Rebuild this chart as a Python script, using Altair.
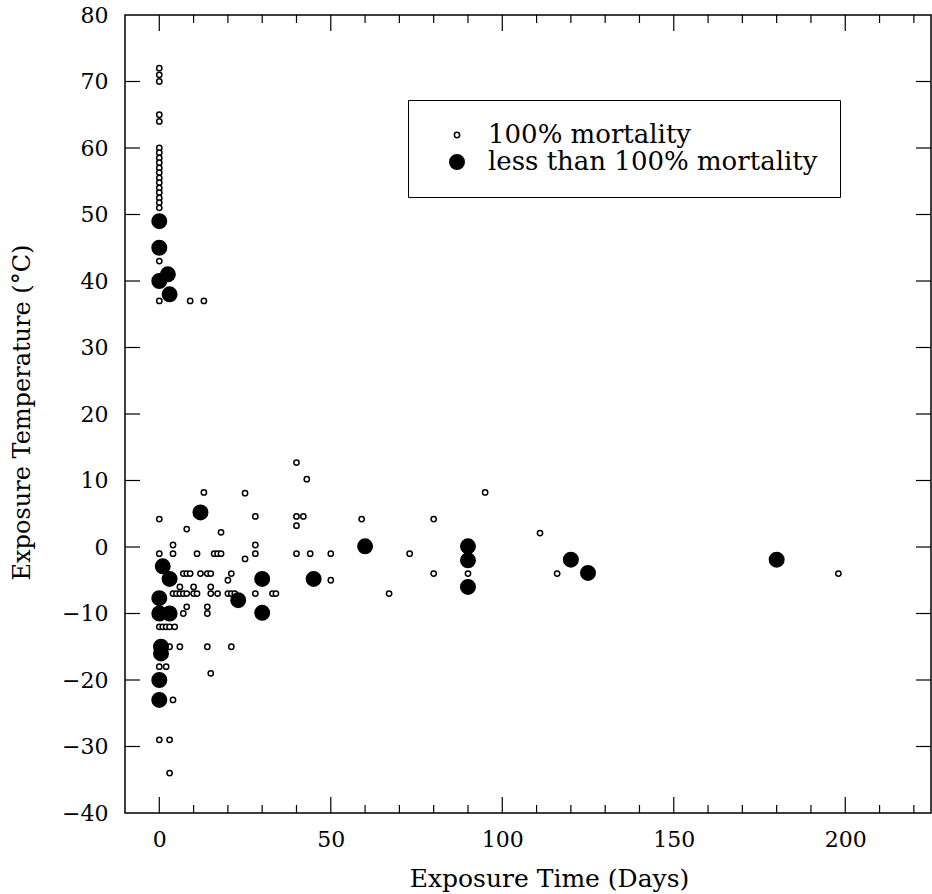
import altair as alt
import pandas as pd

# ---- data ----
open_days = [0, 0, 0, 0, 0,
             0, 0, 0, 0, 0, 0, 0, 0, 0, 0, 0, 0, 0,
             0, 0, 9, 13,
             40, 43, 13, 25, 95,
             0, 28, 40, 42, 40, 59, 80,
             8, 18, 111,
             4, 28,
             0, 4, 11, 16, 17, 18, 28, 40, 44, 50, 73,
             25,
             7, 8, 9, 12, 14, 15, 21, 80, 90, 116, 198,
             20, 50,
             6, 10, 15,
             4, 5, 6, 7, 8, 10, 11, 15, 17, 20, 21, 22, 28, 33, 34, 67,
             8, 14, 7, 14,
             0, 1, 2, 3, 4.5,
             3, 6, 14, 21,
             0, 2, 15, 4, 0, 3, 3]
open_temps = [72, 71, 70, 65, 64,
              60, 59.3, 58.5, 57.8, 57, 56.3, 55.5, 54.8, 54, 53.3, 52.5, 51.8, 51,
              43, 37, 37, 37,
              12.7, 10.2, 8.2, 8.1, 8.2,
              4.2, 4.6, 4.6, 4.6, 3.2, 4.2, 4.2,
              2.7, 2.2, 2.1,
              0.3, 0.3,
              -1, -1, -1, -1, -1, -1, -1, -1, -1, -1, -1,
              -1.8,
              -4, -4, -4, -4, -4, -4, -4, -4, -4, -4, -4,
              -5, -5,
              -6, -6, -6,
              -7, -7, -7, -7, -7, -7, -7, -7, -7, -7, -7, -7, -7, -7, -7, -7,
              -9, -9, -10, -10,
              -12, -12, -12, -12, -12,
              -15, -15, -15, -15,
              -18, -18, -19, -23, -29, -29, -34]

filled_days = [0, 0, 0, 2.5, 3,
               12, 1, 3, 30, 45, 60, 90, 90, 90, 120, 125, 180,
               23, 0, 0, 3, 30, 0.5, 0.5, 0, 0]
filled_temps = [49, 45, 40, 41, 38,
                5.2, -2.9, -4.8, -4.8, -4.8, 0.1, 0.1, -2, -6, -1.9, -3.9, -1.9,
                -8, -7.7, -10, -10, -9.9, -15, -16, -20, -23]

groups = ["100% mortality", "less than 100% mortality"]

x_major = [0, 50, 100, 150, 200]
x_minor = [10, 20, 30, 40, 60, 70, 80, 90, 110, 120, 130, 140,
           160, 170, 180, 190, 210, 220]
y_labels = [-40, -30, -20, -10, 0, 10, 20, 30, 40, 50, 60, 70, 80]
y_ticks = [-30, -20, -10, 0, 10, 20, 30, 40, 50, 60, 70]

W, H = 806, 798
FONT = "DejaVu Serif"

df = pd.DataFrame({
    "day": open_days + filled_days,
    "temp": open_temps + filled_temps,
    "group": [groups[0]] * len(open_days) + [groups[1]] * len(filled_days),
})

xscale = alt.Scale(domain=[-10, 225], nice=False, zero=False)
yscale = alt.Scale(domain=[-40, 80], nice=False, zero=False)

legend = alt.Legend(
    title=None, orient="none", legendX=283, legendY=85, padding=22,
    strokeColor="black", fillColor="white", symbolType="circle",
    symbolStrokeColor="black", symbolStrokeWidth=1.5, symbolOffset=14,
    labelOffset=18, rowPadding=1, labelFont=FONT, labelFontSize=26,
    labelColor="black", labelLimit=600,
)

points = alt.Chart(df).mark_point(
    shape="circle", filled=True, strokeWidth=1.5, opacity=1
).encode(
    x=alt.X("day:Q", scale=xscale,
            axis=alt.Axis(values=x_major, title="Exposure Time (Days)",
                          labelPadding=16, titleX=424, titleY=65,
                          titleFontSize=25, titleBaseline="middle")),
    y=alt.Y("temp:Q", scale=yscale,
            axis=alt.Axis(values=y_labels, title="Exposure Temperature (°C)",
                          labelPadding=17, titleX=-103, titleY=397,
                          titleFontSize=24, titleBaseline="middle",
                          titleAngle=270)),
    fill=alt.Fill("group:N", scale=alt.Scale(domain=groups, range=["white", "black"]),
                  legend=legend),
    stroke=alt.Stroke("group:N", scale=alt.Scale(domain=groups, range=["black", "black"]),
                      legend=legend),
    size=alt.Size("group:N", scale=alt.Scale(domain=groups, range=[28, 210]),
                  legend=legend),
)

xmaj = pd.DataFrame({"day": x_major})
xmin = pd.DataFrame({"day": x_minor})
ytk = pd.DataFrame({"temp": y_ticks})

def xrule(d, y0, y1):
    return alt.Chart(d).mark_rule(color="black", strokeWidth=1.2).encode(
        x=alt.X("day:Q", scale=xscale), y=alt.value(y0), y2=alt.value(y1))

def yrule(d, x0, x1):
    return alt.Chart(d).mark_rule(color="black", strokeWidth=1.2).encode(
        y=alt.Y("temp:Q", scale=yscale), x=alt.value(x0), x2=alt.value(x1))

ticks = [
    xrule(xmaj, H, H - 16), xrule(xmin, H, H - 8),
    xrule(xmaj, 0, 16), xrule(xmin, 0, 8),
    yrule(ytk, 0, 15), yrule(ytk, W, W - 15),
]

chart = alt.layer(*ticks, points).properties(
    width=W, height=H,
    autosize=alt.AutoSizeParams(type="none"),
    padding={"left": 125, "top": 15, "right": 1, "bottom": 81},
    background="white",
).configure_view(
    stroke="black", strokeWidth=1.5
).configure_axis(
    domain=False, ticks=False, tickSize=0, grid=False,
    labelFont=FONT, labelFontSize=22, labelColor="black",
    titleFont=FONT, titleFontWeight="normal", titleColor="black",
)

chart.save("out.html", embed_options={"renderer": "svg", "actions": False})
